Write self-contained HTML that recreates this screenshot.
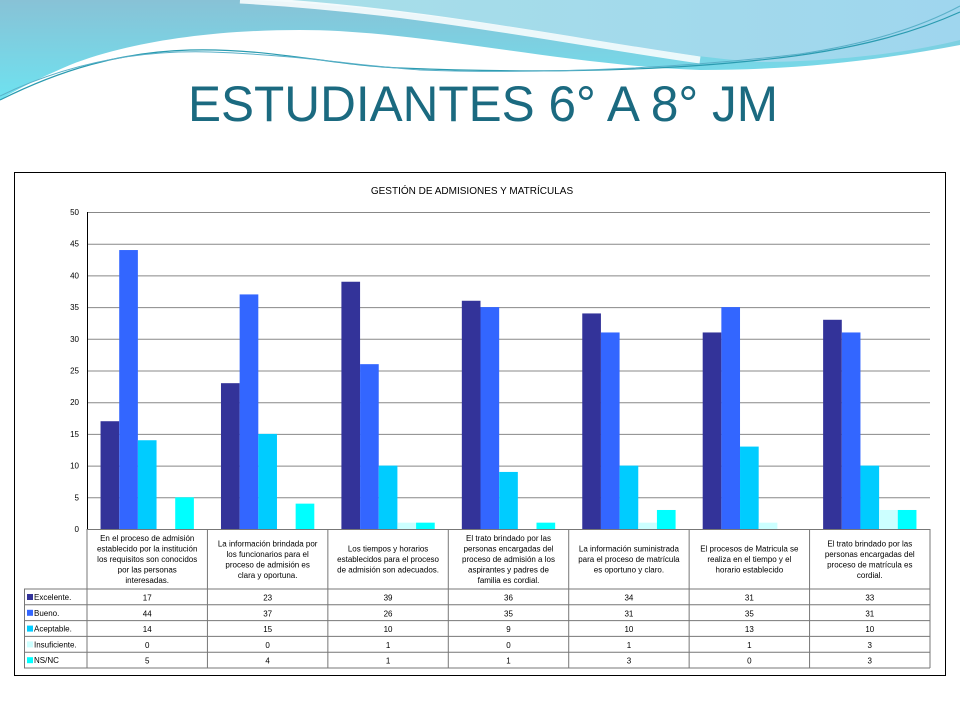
<!DOCTYPE html>
<html><head><meta charset="utf-8"><style>
body{margin:0;width:960px;height:720px;background:#fff;font-family:"Liberation Sans",sans-serif;overflow:hidden;position:relative}
svg{position:absolute;left:0;top:0}
</style></head><body>
<svg width="960" height="720">
<defs>
<linearGradient id="g1" x1="0" y1="0" x2="1" y2="0"><stop offset="0" stop-color="#a8dfe8"/><stop offset="1" stop-color="#9fd6ee"/></linearGradient>
<linearGradient id="g2" x1="0" y1="0" x2="0" y2="1"><stop offset="0" stop-color="#88c2d6"/><stop offset="1" stop-color="#6ee2f0"/></linearGradient>
</defs>
<g>
<path d="M0 0 H960 V45 C880 60 800 70 700 70 C560 65 420 30 300 30 C200 30 120 45 70 65 C35 80 12 92 0 100 Z" fill="url(#g2)"/>
<path d="M250 0 H960 V40 C900 55 820 62 760 62 C640 55 470 10 250 0 Z" fill="url(#g1)"/>
<path d="M0 100 C60 70 120 52 190 50 C270 48 330 65 400 68 C520 73 650 72 760 60 C860 50 920 30 960 12" fill="none" stroke="#2a9bb0" stroke-width="1.2"/>
<path d="M0 96 C70 62 140 50 210 52 C300 55 360 66 420 70 C560 75 700 66 800 54 C880 42 930 22 960 6" fill="none" stroke="#5ab0c8" stroke-width="1"/>
<path d="M240 0 C420 10 560 40 700 60" fill="none" stroke="#fff" stroke-width="7" opacity="0.85"/>
</g>
<text x="483" y="121" text-anchor="middle" font-size="50" fill="#1b6a80" font-family="Liberation Sans, sans-serif" textLength="590" lengthAdjust="spacingAndGlyphs">ESTUDIANTES 6° A 8° JM</text>
<rect x="14.5" y="172.5" width="931" height="503" fill="#fff" stroke="#000" stroke-width="1"/>
<text x="472" y="194" text-anchor="middle" font-size="10" fill="#000">GESTIÓN DE ADMISIONES Y MATRÍCULAS</text>
<g id="chart"></g>
</svg>
<script>
const categories=[
["En el proceso de admisión","establecido por la institución","los requisitos son conocidos","por las personas","interesadas."],
["La información brindada por","los funcionarios para el","proceso de admisión es","clara y oportuna."],
["Los tiempos y horarios","establecidos para el proceso","de admisión son adecuados."],
["El trato brindado por las","personas encargadas del","proceso de admisión a los","aspirantes y padres de","familia es cordial."],
["La información suministrada","para el proceso de matrícula","es oportuno y claro."],
["El procesos de Matricula se","realiza en el tiempo y el","horario establecido"],
["El trato brindado por las","personas encargadas del","proceso de matrícula es","cordial."]];
const seriesNames=["Excelente.","Bueno.","Aceptable.","Insuficiente.","NS/NC"];
const excelente=[17,23,39,36,34,31,33];
const bueno=[44,37,26,35,31,35,31];
const aceptable=[14,15,10,9,10,13,10];
const insuficiente=[0,0,1,0,1,1,3];
const nsnc=[5,4,1,1,3,0,3];
const yTicks=[0,5,10,15,20,25,30,35,40,45,50];
const series=[excelente,bueno,aceptable,insuficiente,nsnc];
const colors=["#333399","#3366ff","#00ccff","#ccffff","#00ffff"];
const NS="http://www.w3.org/2000/svg";
const g=document.getElementById('chart');
const X0=87,X1=930,Y0=529,Y1=212,yMax=50;
const cw=(X1-X0)/categories.length;
const y=v=>Y0-(v/yMax)*(Y0-Y1);
function el(t,a,txt){const e=document.createElementNS(NS,t);for(const k in a)e.setAttribute(k,a[k]);if(txt!==undefined)e.textContent=txt;g.appendChild(e);return e;}
yTicks.forEach(t=>{
 const l=el('line',{x1:X0,x2:X1,y1:y(t)+0.5,y2:y(t)+0.5,stroke:t===0?'#000':'#888','stroke-width':1});
 
 
 const tx=el('text',{x:X0-8,y:y(t)+3,'text-anchor':'end','font-size':8,fill:'#000'},String(t));
 
 
});
el('line',{x1:X0+0.5,x2:X0+0.5,y1:Y1,y2:Y0,stroke:'#000'});
const bw=cw*0.155,off=(cw-5*bw)/2;
categories.forEach((c,i)=>{
 series.forEach((s,j)=>{
  const r=el('rect',{x:X0+i*cw+off+j*bw,y:y(s[i]),width:bw,height:Y0-y(s[i]),fill:colors[j]});
  
  
 });
});
const TL=24,TR=930,HT=529,HB=589,RH=15.8;
const lineC='#777';
el('line',{x1:X0,x2:X1,y1:HT+0.5,y2:HT+0.5,stroke:lineC});
for(let r=0;r<=5;r++){const yy=HB+r*RH;el('line',{x1:TL,x2:TR,y1:yy,y2:yy,stroke:lineC});}
el('line',{x1:TL+0.5,x2:TL+0.5,y1:HB,y2:HB+5*RH,stroke:lineC});
for(let i=0;i<=categories.length;i++){const xx=X0+i*cw;el('line',{x1:xx,x2:xx,y1:HT,y2:HB+5*RH,stroke:lineC});}
categories.forEach((c,i)=>{
 const cx=X0+i*cw+cw/2;const n=c.length;const lh=10.5;const st=(HT+HB)/2-(n-1)*lh/2+3;
 c.forEach((ln,k)=>{const t=el('text',{x:cx,y:st+k*lh,'text-anchor':'middle','font-size':8,fill:'#000'},ln);
  
  });
});
seriesNames.forEach((nm,j)=>{
 const yy=HB+j*RH;
 el('rect',{x:TL+3,y:yy+5,width:6,height:6,fill:colors[j]});
 const t=el('text',{x:TL+10,y:yy+11,'font-size':8,fill:'#000'},nm);
 
 
 series[j].forEach((v,i)=>{const tv=el('text',{x:X0+i*cw+cw/2,y:yy+11.5,'text-anchor':'middle','font-size':8,fill:'#000'},String(v));
  
  });
});
</script>
</body></html>
